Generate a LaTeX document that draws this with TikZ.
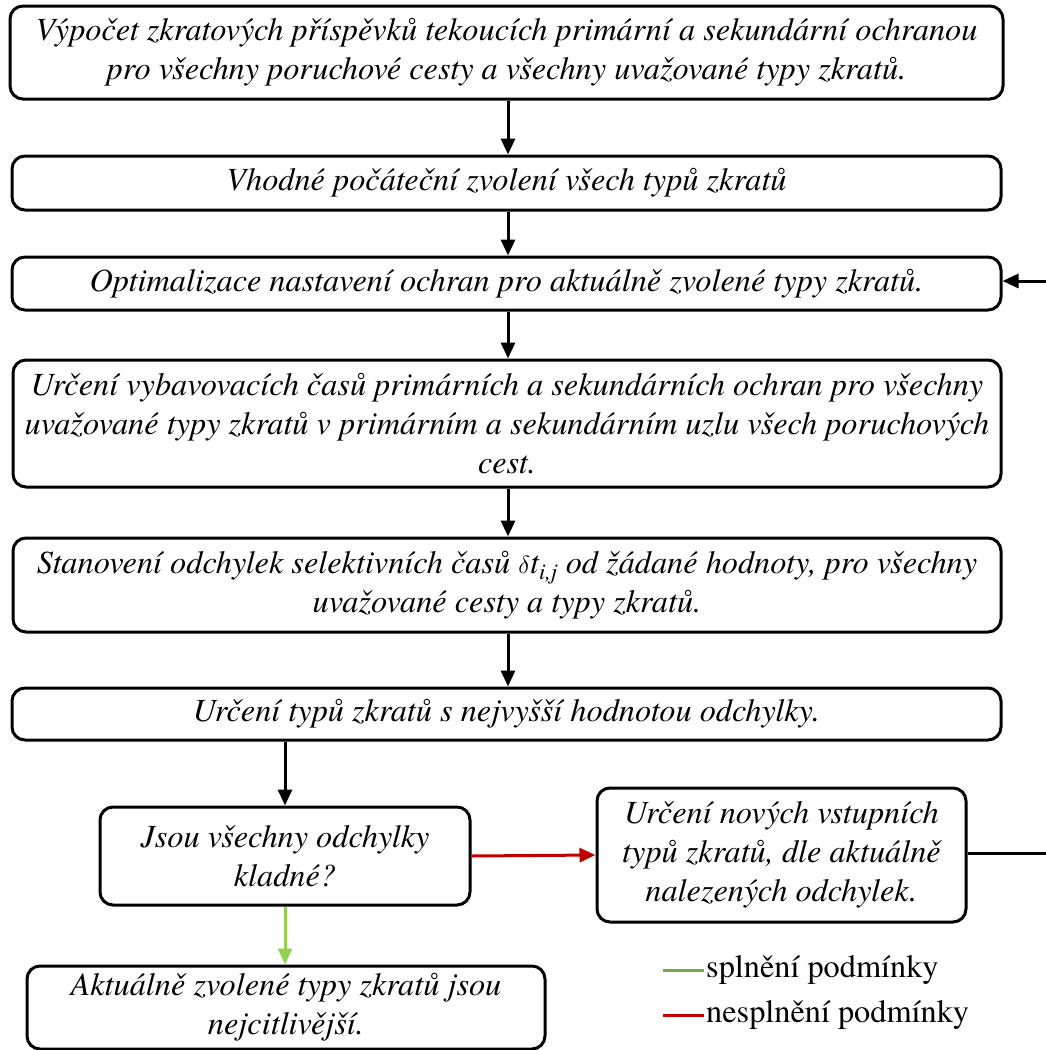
\documentclass[tikz,border=0pt]{standalone}
\usepackage{fontspec}
\setmainfont{texgyretermes}[Extension=.otf,UprightFont=*-regular,ItalicFont=*-italic,BoldFont=*-bold]
\usetikzlibrary{arrows.meta}
\definecolor{okgreen}{HTML}{92D050}
\definecolor{leggreen}{HTML}{70AD47}
\definecolor{failred}{HTML}{C00000}
\begin{document}
\begin{tikzpicture}[x=1pt,y=-1pt,
  stepbox/.style={draw=black,line width=3pt,rounded corners=13pt,align=center,
    inner sep=0pt,font=\fontsize{32.3}{39}\selectfont\itshape},
  flow/.style={line width=3pt,-{Triangle[length=16pt,width=14pt]}},
  legline/.style={line width=3pt},
  legtext/.style={anchor=west,inner sep=0pt,font=\fontsize{32.3}{39}\selectfont}]
\useasboundingbox (0,0) rectangle (1046,1050);

% main sequence of steps
\node[stepbox,minimum width=993pt,minimum height=93pt] (calc) at (506.5,52.5)
  {Výpočet zkratových příspěvků tekoucích primární a sekundární ochranou\\
   pro všechny poruchové cesty a všechny uvažované typy zkratů.};
\node[stepbox,minimum width=989pt,minimum height=54pt] (init) at (506.5,183)
  {Vhodné počáteční zvolení všech typů zkratů};
\node[stepbox,minimum width=989pt,minimum height=53pt] (optim) at (506.5,283.5)
  {Optimalizace nastavení ochran pro aktuálně zvolené typy zkratů.};
\node[stepbox,minimum width=988pt,minimum height=127pt] (times) at (507,423.5)
  {Určení vybavovacích časů primárních a sekundárních ochran pro všechny\\
   uvažované typy zkratů v primárním a sekundárním uzlu všech poruchových\\
   cest.};
\node[stepbox,minimum width=988pt,minimum height=94pt] (dev) at (507,585)
  {Stanovení odchylek selektivních časů $\delta$t\textsubscript{i,j} od žádané hodnoty, pro všechny\\
   uvažované cesty a typy zkratů.};
\node[stepbox,minimum width=989pt,minimum height=52pt] (maxdev) at (506.5,714)
  {Určení typů zkratů s nejvyšší hodnotou odchylky.};
\node[stepbox,minimum width=370pt,minimum height=98pt] (check) at (285,856)
  {Jsou všechny odchylky\\ kladné?};
\node[stepbox,minimum width=369pt,minimum height=134pt] (newtypes) at (781.5,855)
  {Určení nových vstupních\\ typů zkratů, dle aktuálně\\ nalezených odchylek.};
\node[stepbox,minimum width=518pt,minimum height=83pt] (result) at (286,1007.5)
  {Aktuálně zvolené typy zkratů jsou\\ nejcitlivější.};

% connectors
\draw[flow] (calc.south -| 508,0) -- (init.north -| 508,0);
\draw[flow] (init.south -| 508,0) -- (optim.north -| 508,0);
\draw[flow] (optim.south -| 508,0) -- (times.north -| 508,0);
\draw[flow] (times.south -| 508,0) -- (dev.north -| 508,0);
\draw[flow] (dev.south -| 508,0) -- (maxdev.north -| 508,0);
\draw[flow] (maxdev.south -| check.north) -- (check.north);
\draw[flow,draw=failred,fill=failred] (check.east) -- (newtypes.west);
\draw[flow,draw=okgreen,fill=okgreen] (check.south) -- (result.north -| check.south);

% feedback loop along the right side
\coordinate (loopA) at (1070,853);
\coordinate (loopB) at (1070,281);
\draw[flow] (newtypes.east |- loopA) -- (loopA) -- (loopB) -- (optim.east |- loopB);

% legend
\coordinate (lg1a) at (663,970);
\coordinate (lg1b) at (704,970);
\coordinate (lg2a) at (663,1015);
\coordinate (lg2b) at (704,1015);
\draw[legline,leggreen] (lg1a) -- (lg1b);
\draw[legline,failred] (lg2a) -- (lg2b);
\node[legtext] (leg1) at (706,970) {splnění podmínky};
\node[legtext] (leg2) at (706,1015) {nesplnění podmínky};
\end{tikzpicture}
\end{document}
